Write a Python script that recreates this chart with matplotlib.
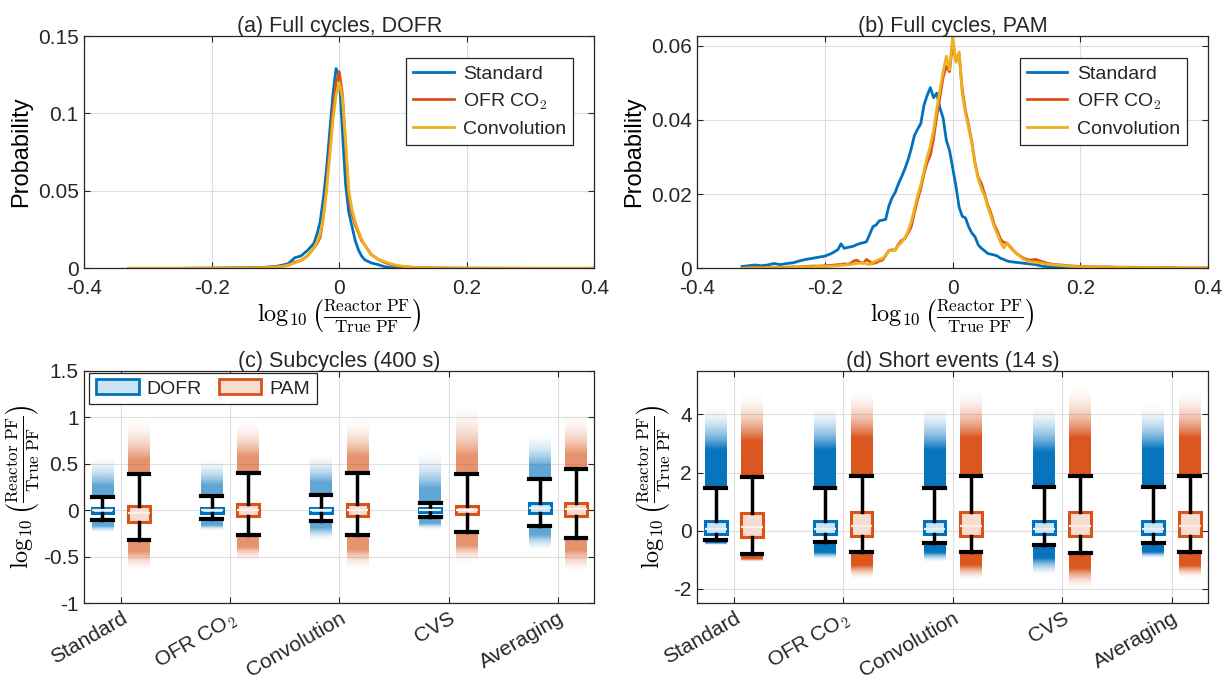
import numpy as np
import matplotlib
matplotlib.use("Agg")
import matplotlib.pyplot as plt
from matplotlib.colors import to_rgb
from matplotlib.patches import Patch
from matplotlib.ticker import FuncFormatter

plt.rcParams['font.family'] = ['Liberation Sans', 'DejaVu Sans']
plt.rcParams['mathtext.fontset'] = 'cm'
plt.rcParams['axes.unicode_minus'] = False
plt.rcParams['text.color'] = '#262626'

BLUE = '#0072BD'
ORANGE = '#D95319'
YELLOW = '#EDB120'
BLUE_FILL = '#CCE3F2'
ORANGE_FILL = '#F7DDD1'
DARK = '#262626'

# ---- (a) Full cycles, DOFR : probability vs log10 ratio ----
xa = [-0.33, -0.30, -0.25, -0.20, -0.15,
      -0.12, -0.10, -0.09, -0.08, -0.07,
      -0.06, -0.05, -0.04, -0.035, -0.03,
      -0.025, -0.02, -0.015, -0.01, -0.005,
      0.0, 0.005, 0.01, 0.015, 0.02,
      0.025, 0.03, 0.035, 0.04, 0.05,
      0.06, 0.07, 0.08, 0.09, 0.10,
      0.12, 0.15, 0.20, 0.25, 0.30,
      0.35, 0.40]
a_standard = [0, 0, 0, 0.0001, 0.0003,
              0.0006, 0.0012, 0.0020, 0.0030, 0.0068,
              0.0080, 0.0115, 0.0160, 0.0220, 0.0300,
              0.0450, 0.0640, 0.0880, 0.1120, 0.1290,
              0.1240, 0.0880, 0.0540, 0.0360, 0.0270,
              0.0180, 0.0120, 0.0080, 0.0055, 0.0035,
              0.0025, 0.0012, 0.0005, 0.0003, 0.0002,
              0.0001, 0.0001, 0, 0, 0,
              0, 0]
a_ofr = [0, 0, 0, 0.0001, 0.0002,
         0.0004, 0.0008, 0.0012, 0.0020, 0.0040,
         0.0050, 0.0080, 0.0130, 0.0160, 0.0200,
         0.0330, 0.0530, 0.0770, 0.1020, 0.1200,
         0.1270, 0.1120, 0.0780, 0.0460, 0.0350,
         0.0280, 0.0230, 0.0180, 0.0150, 0.0090,
         0.0060, 0.0040, 0.0025, 0.0015, 0.0010,
         0.0005, 0.0002, 0.0001, 0, 0,
         0, 0]
a_conv = [0, 0, 0, 0.0001, 0.0002,
          0.0004, 0.0008, 0.0012, 0.0020, 0.0035,
          0.0050, 0.0080, 0.0130, 0.0170, 0.0220,
          0.0330, 0.0500, 0.0720, 0.0950, 0.1120,
          0.1200, 0.1100, 0.0820, 0.0500, 0.0380,
          0.0300, 0.0240, 0.0190, 0.0150, 0.0090,
          0.0060, 0.0045, 0.0030, 0.0020, 0.0013,
          0.0006, 0.0002, 0.0001, 0.0001, 0,
          0, 0]

# ---- (b) Full cycles, PAM ----
xb = [-0.33, -0.32, -0.31, -0.30, -0.29, -0.28, -0.27, -0.26,
      -0.25, -0.24, -0.23, -0.22, -0.21, -0.20, -0.19, -0.18,
      -0.175, -0.17, -0.165, -0.16, -0.155, -0.15, -0.145, -0.14,
      -0.135, -0.13, -0.125, -0.12, -0.115, -0.11, -0.105, -0.10,
      -0.095, -0.09, -0.085, -0.08, -0.075, -0.07, -0.065, -0.06, -0.055, -0.05,
      -0.045, -0.04, -0.035, -0.03, -0.025, -0.02, -0.015, -0.01, -0.005,
      0.0, 0.005, 0.01, 0.015, 0.02, 0.025, 0.03, 0.035, 0.04, 0.045, 0.05,
      0.055, 0.06, 0.065, 0.07, 0.075, 0.08, 0.085, 0.09, 0.095, 0.10,
      0.11, 0.12, 0.13, 0.14, 0.15, 0.16, 0.17, 0.18, 0.19, 0.20,
      0.22, 0.24, 0.26, 0.28, 0.30, 0.32, 0.34, 0.36, 0.38, 0.40]
b_standard = [0.0005, 0.0007, 0.0009, 0.0007, 0.0009, 0.0013, 0.0010, 0.0013,
              0.0015, 0.0020, 0.0024, 0.0027, 0.0030, 0.0033, 0.0040, 0.0050,
              0.0066, 0.0054, 0.0056, 0.0058, 0.0060, 0.0064, 0.0067, 0.0069,
              0.0072, 0.0092, 0.0112, 0.0117, 0.0128, 0.0130, 0.0132, 0.0168,
              0.0190, 0.0205, 0.0228, 0.0247, 0.0268, 0.0292, 0.0322, 0.0358, 0.0375, 0.0390,
              0.0440, 0.0466, 0.0487, 0.0460, 0.0472, 0.0432, 0.0405, 0.0345, 0.0318,
              0.0270, 0.0222, 0.0165, 0.0140, 0.0136, 0.0112, 0.0095, 0.0085, 0.0063, 0.0054, 0.0047,
              0.0040, 0.0038, 0.0036, 0.0033, 0.0027, 0.0024, 0.0020, 0.0018, 0.0017, 0.0016,
              0.0014, 0.0012, 0.0010, 0.0006, 0.0004, 0.0003, 0.0002, 0.0002, 0.0001, 0.0001,
              0.0001, 0, 0, 0, 0, 0, 0, 0, 0, 0]
b_ofr = [0.0001, 0.0001, 0.0002, 0.0002, 0.0002, 0.0003, 0.0002, 0.0003,
         0.0004, 0.0004, 0.0005, 0.0006, 0.0006, 0.0007, 0.0008, 0.0010,
         0.0010, 0.0012, 0.0011, 0.0013, 0.0020, 0.0022, 0.0016, 0.0014,
         0.0024, 0.0018, 0.0013, 0.0015, 0.0020, 0.0022, 0.0035, 0.0048,
         0.0050, 0.0049, 0.0065, 0.0075, 0.0080, 0.0095, 0.0112, 0.0150, 0.0185, 0.0215,
         0.0255, 0.0285, 0.0305, 0.0350, 0.0410, 0.0462, 0.0515, 0.0545, 0.0530,
         0.0610, 0.0560, 0.0578, 0.0480, 0.0425, 0.0385, 0.0340, 0.0283, 0.0245, 0.0228, 0.0200,
         0.0170, 0.0148, 0.0118, 0.0100, 0.0078, 0.0070, 0.0068, 0.0058, 0.0048, 0.0040,
         0.0028, 0.0022, 0.0024, 0.0018, 0.0013, 0.0010, 0.0009, 0.0007, 0.0006, 0.0005,
         0.0004, 0.0004, 0.0003, 0.0003, 0.0002, 0.0002, 0.0002, 0.0001, 0.0001, 0.0001]
b_conv = [0.0000, 0.0001, 0.0001, 0.0001, 0.0002, 0.0002, 0.0002, 0.0002,
          0.0003, 0.0003, 0.0004, 0.0004, 0.0005, 0.0005, 0.0006, 0.0007,
          0.0008, 0.0009, 0.0010, 0.0010, 0.0012, 0.0013, 0.0014, 0.0015,
          0.0012, 0.0010, 0.0016, 0.0020, 0.0024, 0.0026, 0.0036, 0.0047,
          0.0048, 0.0050, 0.0062, 0.0070, 0.0082, 0.0100, 0.0125, 0.0160, 0.0195, 0.0225,
          0.0262, 0.0300, 0.0330, 0.0372, 0.0430, 0.0480, 0.0530, 0.0572, 0.0535,
          0.0625, 0.0555, 0.0583, 0.0470, 0.0418, 0.0378, 0.0335, 0.0280, 0.0240, 0.0215, 0.0195,
          0.0165, 0.0140, 0.0112, 0.0092, 0.0070, 0.0055, 0.0068, 0.0060, 0.0050, 0.0040,
          0.0025, 0.0018, 0.0016, 0.0014, 0.0011, 0.0009, 0.0008, 0.0006, 0.0005, 0.0004,
          0.0003, 0.0003, 0.0003, 0.0002, 0.0002, 0.0002, 0.0001, 0.0001, 0.0001, 0.0001]

# ---- box plot panels ----
methods = ['Standard', 'OFR CO$_2$', 'Convolution', 'CVS', 'Averaging']

# (c) Subcycles (400 s)
c_dofr_med = [0.0, 0.0, 0.0, 0.0, 0.02]
c_dofr_q1 = [-0.025, -0.025, -0.025, -0.02, -0.03]
c_dofr_q3 = [0.02, 0.02, 0.025, 0.02, 0.075]
c_dofr_lo = [-0.10, -0.095, -0.11, -0.072, -0.17]
c_dofr_hi = [0.147, 0.15, 0.165, 0.082, 0.337]
c_dofr_up_dense = [0.27, 0.27, 0.30, 0.24, 0.48]
c_dofr_up_max = [0.60, 0.58, 0.62, 0.66, 0.85]
c_dofr_low_dense = [-0.17, -0.16, -0.19, -0.14, -0.27]
c_dofr_low_min = [-0.24, -0.22, -0.34, -0.21, -0.45]

c_pam_med = [-0.03, 0.0, 0.0, 0.0, 0.01]
c_pam_q1 = [-0.125, -0.06, -0.06, -0.045, -0.06]
c_pam_q3 = [0.047, 0.065, 0.065, 0.05, 0.075]
c_pam_lo = [-0.32, -0.265, -0.265, -0.237, -0.30]
c_pam_hi = [0.394, 0.40, 0.40, 0.387, 0.44]
c_pam_up_dense = [0.55, 0.58, 0.58, 0.58, 0.60]
c_pam_up_max = [1.00, 0.98, 1.00, 1.15, 1.05]
c_pam_low_dense = [-0.44, -0.40, -0.42, -0.38, -0.44]
c_pam_low_min = [-0.66, -0.56, -0.64, -0.58, -0.69]

# (d) Short events (14 s)
d_dofr_med = [0.07, 0.07, 0.07, 0.07, 0.07]
d_dofr_q1 = [-0.10, -0.10, -0.10, -0.10, -0.10]
d_dofr_q3 = [0.32, 0.32, 0.32, 0.32, 0.32]
d_dofr_lo = [-0.33, -0.40, -0.41, -0.48, -0.41]
d_dofr_hi = [1.48, 1.48, 1.48, 1.50, 1.50]
d_dofr_up_dense = [2.8, 2.8, 2.8, 2.7, 2.8]
d_dofr_up_max = [4.4, 4.4, 4.4, 4.4, 4.4]
d_dofr_low_dense = [-0.42, -0.75, -0.75, -0.95, -0.75]
d_dofr_low_min = [-0.49, -1.00, -1.10, -1.60, -0.98]

d_pam_med = [0.13, 0.15, 0.15, 0.15, 0.15]
d_pam_q1 = [-0.22, -0.18, -0.18, -0.18, -0.18]
d_pam_q3 = [0.61, 0.63, 0.63, 0.63, 0.63]
d_pam_lo = [-0.79, -0.72, -0.72, -0.76, -0.72]
d_pam_hi = [1.86, 1.88, 1.88, 1.88, 1.88]
d_pam_up_dense = [3.1, 3.2, 3.2, 3.2, 3.2]
d_pam_up_max = [4.8, 4.9, 4.9, 5.0, 4.9]
d_pam_low_dense = [-0.98, -1.20, -1.20, -1.30, -1.20]
d_pam_low_min = [-1.08, -1.70, -1.75, -2.05, -1.65]

LOG_LABEL = r'$\log_{10}\left(\frac{\mathrm{Reactor\ PF}}{\mathrm{True\ PF}}\right)$'


def style_axes(ax):
    ax.tick_params(direction='in', top=True, right=True, length=4, width=0.8,
                   labelsize=15, colors=DARK)
    ax.tick_params(axis='x', pad=8)
    ax.tick_params(axis='y', pad=4)
    for s in ax.spines.values():
        s.set_color(DARK)
        s.set_linewidth(0.9)
    ax.grid(True, color='#dedede', linewidth=0.8)
    ax.set_axisbelow(True)
    ax.yaxis.set_major_formatter(FuncFormatter(lambda v, p: f'{v:g}'))


def plot_dist(ax, x, curves, title, ymax, yticks):
    for y, color, label in curves:
        ax.plot(x, y, color=color, lw=2.0, label=label)
    style_axes(ax)
    ax.set_xlim(-0.4, 0.4)
    ax.set_ylim(0, ymax)
    ax.set_xticks([-0.4, -0.2, 0, 0.2, 0.4])
    ax.xaxis.set_major_formatter(FuncFormatter(lambda v, p: f'{v:g}'))
    ax.set_yticks(yticks)
    ax.set_xlabel(LOG_LABEL, fontsize=17.5, labelpad=-1)
    ax.set_ylabel('Probability', fontsize=17, labelpad=4)
    ax.set_title(title, fontsize=15.5, pad=3)
    leg = ax.legend(loc='upper right', bbox_to_anchor=(0.959, 0.905), borderaxespad=0,
                    fontsize=14, fancybox=False, edgecolor=DARK, framealpha=1,
                    handlelength=2.1, borderpad=0.35, labelspacing=0.45, handletextpad=0.5)
    leg.get_frame().set_linewidth(0.9)


def cloud(ax, x, start, dense, end, color, a_dense, width=0.2):
    # colour column fading out from the whisker end towards the last points
    n = 300
    t = np.linspace(0, 1, n)
    frac = (dense - start) / (end - start)
    s = np.clip((t - frac) / (1 - frac), 0, 1)
    alpha = a_dense * (1 - s) ** 2 + 0.03 * (1 - s)
    img = np.zeros((n, 1, 4))
    img[..., :3] = to_rgb(color)
    img[:, 0, 3] = alpha
    if start > end:
        img = img[::-1]
    lo, hi = sorted([start, end])
    ax.imshow(img, extent=(x - width / 2, x + width / 2, lo, hi), origin='lower',
              aspect='auto', interpolation='bilinear', zorder=1)


def box_stats(med, q1, q3, lo, hi):
    return [dict(med=m, q1=a, q3=b, whislo=l, whishi=h, fliers=[])
            for m, a, b, l, h in zip(med, q1, q3, lo, hi)]


def plot_boxes(ax, groups, title, ylim, yticks, a_dense):
    pos = np.arange(1, len(methods) + 1)
    for shift, g, color, fill, light in groups:
        for i, p in enumerate(pos):
            cloud(ax, p + shift, g['hi'][i], g['up_dense'][i], g['up_max'][i], color, a_dense)
            cloud(ax, p + shift, g['lo'][i], g['low_dense'][i], g['low_min'][i], color, a_dense)
        ax.bxp(box_stats(g['med'], g['q1'], g['q3'], g['lo'], g['hi']),
               positions=pos + shift, widths=0.2, capwidths=0.19, patch_artist=True,
               showfliers=False, manage_ticks=False, zorder=3,
               boxprops=dict(facecolor=fill, edgecolor=color, linewidth=2.2),
               medianprops=dict(color=light, linewidth=1.6),
               whiskerprops=dict(color='black', linewidth=2.5),
               capprops=dict(color='black', linewidth=3))
    style_axes(ax)
    ax.set_xlim(2 / 3, len(methods) + 1 / 3)
    ax.set_ylim(*ylim)
    ax.set_yticks(yticks)
    ax.set_xticks(pos)
    ax.set_xticklabels(methods, rotation=30, ha='right', rotation_mode='anchor')
    ax.tick_params(axis='x', pad=4)
    ax.set_ylabel(LOG_LABEL, fontsize=17.5, labelpad=1)
    ax.set_title(title, fontsize=15.5, pad=3)


def main():
    fig = plt.figure(figsize=(12.23, 6.8), dpi=100)
    ax_a = fig.add_axes([0.0689, 0.6054, 0.4170, 0.3416])
    ax_b = fig.add_axes([0.5702, 0.6054, 0.4176, 0.3416])
    ax_c = fig.add_axes([0.0689, 0.1128, 0.4170, 0.3419])
    ax_d = fig.add_axes([0.5702, 0.1128, 0.4176, 0.3419])

    plot_dist(ax_a, xa, [(a_standard, BLUE, 'Standard'), (a_ofr, ORANGE, 'OFR CO$_2$'),
                         (a_conv, YELLOW, 'Convolution')],
              '(a) Full cycles, DOFR', 0.15, [0, 0.05, 0.1, 0.15])
    plot_dist(ax_b, xb, [(b_standard, BLUE, 'Standard'), (b_ofr, ORANGE, 'OFR CO$_2$'),
                         (b_conv, YELLOW, 'Convolution')],
              '(b) Full cycles, PAM', 0.0626, [0, 0.02, 0.04, 0.06])

    c_groups = [
        (-1 / 6, dict(med=c_dofr_med, q1=c_dofr_q1, q3=c_dofr_q3, lo=c_dofr_lo, hi=c_dofr_hi,
                      up_dense=c_dofr_up_dense, up_max=c_dofr_up_max,
                      low_dense=c_dofr_low_dense, low_min=c_dofr_low_min),
         BLUE, BLUE_FILL, '#E6F1FA'),
        (1 / 6, dict(med=c_pam_med, q1=c_pam_q1, q3=c_pam_q3, lo=c_pam_lo, hi=c_pam_hi,
                     up_dense=c_pam_up_dense, up_max=c_pam_up_max,
                     low_dense=c_pam_low_dense, low_min=c_pam_low_min),
         ORANGE, ORANGE_FILL, '#FCEEE8'),
    ]
    d_groups = [
        (-1 / 6, dict(med=d_dofr_med, q1=d_dofr_q1, q3=d_dofr_q3, lo=d_dofr_lo, hi=d_dofr_hi,
                      up_dense=d_dofr_up_dense, up_max=d_dofr_up_max,
                      low_dense=d_dofr_low_dense, low_min=d_dofr_low_min),
         BLUE, BLUE_FILL, '#E6F1FA'),
        (1 / 6, dict(med=d_pam_med, q1=d_pam_q1, q3=d_pam_q3, lo=d_pam_lo, hi=d_pam_hi,
                     up_dense=d_pam_up_dense, up_max=d_pam_up_max,
                     low_dense=d_pam_low_dense, low_min=d_pam_low_min),
         ORANGE, ORANGE_FILL, '#FCEEE8'),
    ]
    plot_boxes(ax_c, c_groups, '(c) Subcycles (400 s)', (-1, 1.5),
               [-1, -0.5, 0, 0.5, 1, 1.5], 0.6)
    plot_boxes(ax_d, d_groups, '(d) Short events (14 s)', (-2.5, 5.5),
               [-2, 0, 2, 4], 0.95)

    handles = [Patch(facecolor=BLUE_FILL, edgecolor=BLUE, linewidth=2, label='DOFR'),
               Patch(facecolor=ORANGE_FILL, edgecolor=ORANGE, linewidth=2, label='PAM')]
    leg = ax_c.legend(handles=handles, loc='upper left', bbox_to_anchor=(0.01, 0.992),
                      borderaxespad=0, ncol=2, fontsize=14, fancybox=False, edgecolor=DARK,
                      framealpha=1, handlelength=2.2, handleheight=0.8, columnspacing=0.85,
                      borderpad=0.35, handletextpad=0.4)
    leg.get_frame().set_linewidth(0.9)

    fig.savefig('out.png', dpi=100, facecolor='white')
    plt.close(fig)


if __name__ == '__main__':
    main()
